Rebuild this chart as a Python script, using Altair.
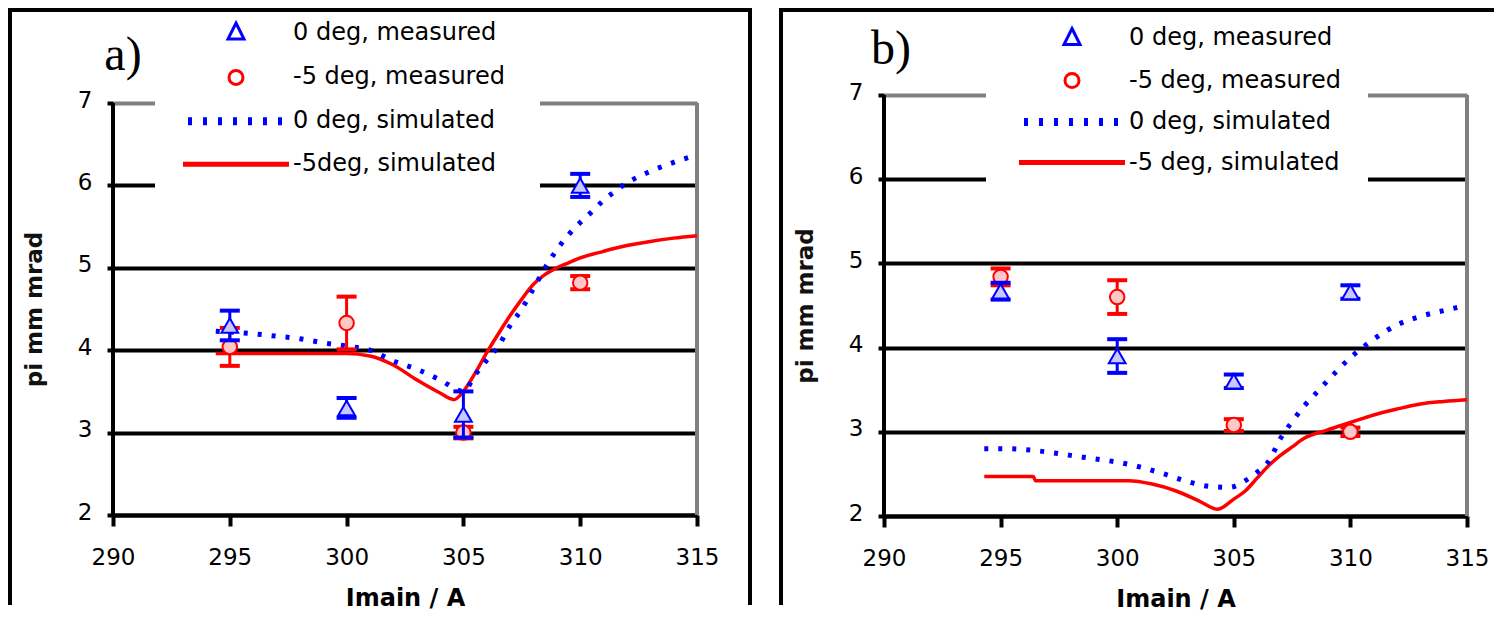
import altair as alt
import pandas as pd

FONT = "DejaVu Sans"

# ---------------- data ----------------
MEAS_X = [295, 300, 305, 310]

A_M0_Y = [4.30, 3.30, 3.22, 6.00]
A_M0_ERR = [0.18, 0.12, 0.28, 0.14]
A_M5_Y = [4.04, 4.33, 3.00, 4.82]
A_M5_ERR = [0.23, 0.32, 0.07, 0.08]

A_S0_X = [294.4, 295, 296, 297, 298, 299, 300, 301, 302, 303, 304, 305, 305.5, 306, 306.5,
          307, 307.5, 308, 308.5, 309, 309.5, 310, 310.5, 311, 311.5, 312, 313, 314, 315]
A_S0_Y = [4.23, 4.22, 4.20, 4.17, 4.14, 4.09, 4.05, 4.00, 3.87, 3.77, 3.64, 3.50, 3.70, 3.88, 4.05,
          4.30, 4.50, 4.75, 5.00, 5.22, 5.40, 5.55, 5.68, 5.82, 5.93, 6.03, 6.17, 6.28, 6.37]
A_S5_X = [294.4, 295, 296, 297, 298, 299, 300, 301, 302, 303, 304, 304.6, 305, 305.5,
          306, 306.5, 307, 307.5, 308, 308.5, 309, 309.5, 310, 311, 312, 313, 314, 315]
A_S5_Y = [3.96, 3.96, 3.96, 3.96, 3.96, 3.96, 3.96, 3.93, 3.82, 3.64, 3.48, 3.40, 3.50, 3.72,
          3.97, 4.20, 4.42, 4.62, 4.80, 4.92, 5.00, 5.06, 5.12, 5.20, 5.27, 5.32, 5.36, 5.39]

B_M0_Y = [4.67, 3.90, 3.60, 4.66]
B_M0_ERR = [0.10, 0.20, 0.08, 0.08]
B_M5_Y = [4.84, 4.60, 3.08, 3.00]
B_M5_ERR = [0.10, 0.20, 0.07, 0.05]

B_S0_X = [294.3, 295, 296, 297, 298, 299, 300, 301, 302, 303, 304, 304.8, 305.5, 306, 306.5,
          307, 307.5, 308, 308.5, 309, 310, 311, 312, 313, 314, 315]
B_S0_Y = [2.80, 2.80, 2.79, 2.76, 2.72, 2.68, 2.64, 2.58, 2.50, 2.41, 2.35, 2.34, 2.42, 2.52, 2.65,
          2.92, 3.12, 3.30, 3.45, 3.60, 3.88, 4.10, 4.27, 4.37, 4.44, 4.50]
B_S5_X = [294.3, 296.4, 296.5, 300.5, 301.5, 302.5, 303.5, 304.3, 305, 305.5, 306, 306.5,
          307, 307.5, 308, 309, 310, 311, 312, 313, 314, 315]
B_S5_Y = [2.47, 2.47, 2.42, 2.42, 2.38, 2.30, 2.18, 2.08, 2.20, 2.30, 2.45, 2.60,
          2.72, 2.82, 2.92, 3.02, 3.11, 3.20, 3.27, 3.33, 3.36, 3.38]

PANEL_LABELS = ["a)", "b)"]
A_NAMES = ["0 deg, measured", "-5 deg, measured", "0 deg, simulated", "-5deg, simulated"]
B_NAMES = ["0 deg, measured", "-5 deg, measured", "0 deg, simulated", "-5 deg, simulated"]
X_TICKS = [290, 295, 300, 305, 310, 315]
Y_TICKS = [2, 3, 4, 5, 6, 7]
X_TITLE = "Imain / A"
Y_TITLE = "pi mm mrad"

# ---------------- styles ----------------
BLUE = "#0000ff"
RED = "#ff0000"
GRAY = "#808080"


def bars_path(centers, half_h=0.4, dx=0.05):
    parts = []
    for c in centers:
        for o in (-dx, dx):
            parts.append(f"M{c + o:.3f},{-half_h}V{half_h}")
    return "".join(parts)


SHAPES = [
    "M0,-0.95L0.8,0.65L-0.8,0.65Z",
    "M0.7,0A0.7,0.7 0 1,1 -0.7,0A0.7,0.7 0 1,1 0.7,0Z",
    bars_path([-4.6, -3.1, -1.6, -0.1, 1.4, 2.9, 4.4]),
    "M-5.3,-0.1H5.3M-5.3,0.1H5.3",
]


def make_panel(label, names, m0y, m0e, m5y, m5e, s0x, s0y, s5x, s5y, g):
    xmin, xmax = X_TICKS[0], X_TICKS[-1]
    ymin, ymax = Y_TICKS[0], Y_TICKS[-1]
    xs = alt.Scale(domain=[xmin, xmax], nice=False, zero=False)
    ys = alt.Scale(domain=[ymin, ymax + g["ytop"]], nice=False, zero=False)
    xaxis = alt.Axis(values=X_TICKS, title=X_TITLE, grid=False, format="d",
                     domainColor="black", domainWidth=4, tickColor="black", tickWidth=4,
                     tickSize=11, labelFont=FONT, labelFontSize=23, labelColor="black",
                     labelPadding=20, labelFlush=False, labelOverlap=False,
                     titleFont=FONT, titleFontSize=24, titleFontWeight="bold",
                     titleColor="black", titlePadding=17)
    yaxis_kw = dict(values=Y_TICKS, title=Y_TITLE, grid=True, gridWidth=4,
                    gridColor={"condition": {"test": f"datum.value === {ymax}", "value": GRAY},
                               "value": "black"},
                    format="d", domain=False, tickColor="black",
                    tickWidth=4, tickSize=6, labelFont=FONT, labelFontSize=23,
                    labelColor="black", labelPadding=15, labelOffset=-3, labelFlush=False,
                    titleFont=FONT, titleFontSize=23, titleFontWeight="bold",
                    titleColor="#111111", titlePadding=31)
    if "titley" in g:
        yaxis_kw["titleY"] = g["titley"]
    yaxis = alt.Axis(**yaxis_kw)

    def X(f):
        return alt.X(f, type="quantitative", scale=xs, axis=xaxis)

    def Y(f):
        return alt.Y(f, type="quantitative", scale=ys, axis=yaxis)

    one = pd.DataFrame({"k": [1]})
    layers = []

    # panel frame (decoration, drawn as filled bands)
    def band(x0, x1, y0, y1):
        return alt.Chart(one).mark_rect(color="black", strokeWidth=0).encode(
            x=alt.value(x0), x2=alt.value(x1), y=alt.value(y0), y2=alt.value(y1))

    fl, ft, fb, fr = g["fl"], g["ft"], g["fb"], g["fr"]
    layers.append(band(fl, fl + 4, ft, fb))
    layers.append(band(fl, fr, ft, ft + 4))
    if g.get("right_border"):
        layers.append(band(fr - 4, fr, ft, fb))

    # white legend box
    layers.append(alt.Chart(one).mark_rect(color="white").encode(
        x=alt.value(g["bx0"]), x2=alt.value(g["bx1"]),
        y=alt.value(g["by0"]), y2=alt.value(g["by1"])))

    # plot-area frame: black left axis line, gray right edge
    layers.append(alt.Chart(one).mark_rule(color=GRAY, strokeWidth=4).encode(
        x=alt.datum(xmax), y=alt.datum(ymin), y2=alt.datum(ymax)))
    layers.append(alt.Chart(one).mark_rule(color="black", strokeWidth=4).encode(
        x=alt.datum(xmin), y=alt.datum(ymin), y2=alt.datum(ymax)))

    # simulated lines
    sim5 = pd.DataFrame({"x": s5x, "y": s5y})
    sim0 = pd.DataFrame({"x": s0x, "y": s0y})
    layers.append(alt.Chart(sim5).mark_line(color=RED, strokeWidth=3.5, interpolate="monotone")
                  .encode(x=X("x"), y=Y("y")))
    layers.append(alt.Chart(sim0).mark_line(color=BLUE, strokeWidth=5, strokeDash=[4, 10],
                                            interpolate="monotone")
                  .encode(x=X("x"), y=Y("y")))

    # measured with error bars
    for yv, ev, col, shape, fill, size in [
        (m5y, m5e, RED, "circle", "#ffc8c8", 210),
        (m0y, m0e, BLUE, "triangle-up", "#c8c8ff", 280),
    ]:
        df = pd.DataFrame({"x": MEAS_X, "y": yv, "err": ev})
        df["lo"] = df["y"] - df["err"]
        df["hi"] = df["y"] + df["err"]
        base = alt.Chart(df)
        layers.append(base.mark_rule(color=col, strokeWidth=3).encode(
            x=X("x"), y=Y("lo"), y2="hi"))
        layers.append(base.mark_tick(color=col, orient="horizontal", size=20, thickness=4,
                                     opacity=1).encode(x=X("x"), y=Y("lo")))
        layers.append(base.mark_tick(color=col, orient="horizontal", size=20, thickness=4,
                                     opacity=1).encode(x=X("x"), y=Y("hi")))
        layers.append(base.mark_point(shape=shape, size=size, filled=True, fill=fill,
                                      stroke=col, strokeWidth=2, opacity=1)
                      .encode(x=X("x"), y=Y("y")))

    # panel label
    layers.append(alt.Chart(one).mark_text(font="Liberation Serif", fontSize=48, align="center",
                                           baseline="middle", color="black").encode(
        x=alt.value(g["lx"]), y=alt.value(g["ly"]), text=alt.value(label)))

    # legend
    leg = alt.Legend(title=None, orient="none", legendX=g["legx"], legendY=g["legy"],
                     symbolSize=400, symbolStrokeWidth=3, symbolOpacity=1, symbolOffset=0,
                     labelOffset=45, labelFont=FONT, labelFontSize=24, labelColor="black",
                     labelLimit=500, rowPadding=g["rowpad"], padding=0)
    leg_df = pd.DataFrame({"series": names, "x": [float("nan")] * 4, "y": [float("nan")] * 4})
    layers.append(alt.Chart(leg_df).mark_point(filled=False, opacity=1).encode(
        x=X("x"), y=Y("y"),
        color=alt.Color("series:N", scale=alt.Scale(domain=names, range=[BLUE, RED, BLUE, RED]),
                        legend=leg),
        shape=alt.Shape("series:N", scale=alt.Scale(domain=names, range=SHAPES), legend=leg)))

    return alt.layer(*layers).properties(width=g["w"], height=g["h"])


# panel a: plot origin at page (113, 95); its 7-line sits 8 px below the origin
GA = dict(w=584, h=420, ytop=8 / 82.4, titley=214,
          fl=-105, ft=-87, fb=510, fr=639, right_border=True,
          bx0=42, bx1=427, by0=-81, by1=95, lx=10, ly=-39,
          legx=111, legy=-74.5, rowpad=18.9)
# panel b: plot origin at page (884, 95); frame kept inside the window
GB = dict(w=583, h=421, ytop=0,
          fl=-105, ft=-87, fb=510, fr=610, right_border=False,
          bx0=102, bx1=484, by0=-81, by1=95, lx=7, ly=-45,
          legx=176, legy=-69, rowpad=16.5)

pa = make_panel(PANEL_LABELS[0], A_NAMES, A_M0_Y, A_M0_ERR, A_M5_Y, A_M5_ERR,
                A_S0_X, A_S0_Y, A_S5_X, A_S5_Y, GA)
pb = make_panel(PANEL_LABELS[1], B_NAMES, B_M0_Y, B_M0_ERR, B_M5_Y, B_M5_ERR,
                B_S0_X, B_S0_Y, B_S5_X, B_S5_Y, GB)

chart = (
    alt.hconcat(pa, pb, spacing=27)
    .resolve_scale(color="independent", shape="independent")
    .configure_view(stroke="transparent", strokeWidth=0)
    .properties(padding=0, background="white")
)

chart.save("out.html", embed_options={"renderer": "svg", "actions": False})
